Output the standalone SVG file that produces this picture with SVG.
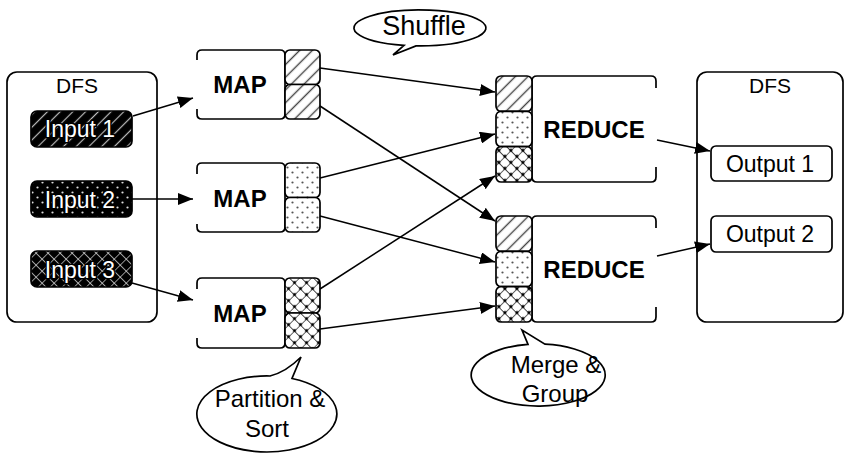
<svg xmlns="http://www.w3.org/2000/svg" width="846" height="459" viewBox="0 0 846 459">
  <defs>
    <style>
      .box { fill: #fff; stroke: #000; stroke-width: 1.7; }
      .open { fill: none; stroke: #000; stroke-width: 1.7; }
      .cell { stroke: #000; stroke-width: 1.7; }
      .lbl { font-family: "Liberation Sans", Arial, sans-serif; font-size: 23px; fill: #000; text-anchor: middle; }
      .bold { font-family: "Liberation Sans", Arial, sans-serif; font-size: 24px; font-weight: bold; fill: #000; text-anchor: middle; }
      .inp { font-family: "Liberation Sans", Arial, sans-serif; font-size: 23px; fill: #fff; stroke: #000; stroke-width: 3; paint-order: stroke; text-anchor: middle; }
      .call { font-family: "Liberation Sans", Arial, sans-serif; font-size: 24px; fill: #000; text-anchor: middle; }
      .edge { fill: none; stroke: #000; stroke-width: 1.5; marker-end: url(#arrow); }
    </style>
    <marker id="arrow" markerUnits="userSpaceOnUse" markerWidth="16" markerHeight="12" refX="15" refY="6" orient="auto">
      <path d="M0,0 L15,6 L0,12 Z" fill="#000"/>
    </marker>
    <!-- light fills for partition cells -->
    <pattern id="hatch" width="9" height="9" patternUnits="userSpaceOnUse" patternTransform="rotate(45)">
      <rect width="9" height="9" fill="#fff"/>
      <line x1="4.5" y1="0" x2="4.5" y2="9" stroke="#444" stroke-width="1.4"/>
    </pattern>
    <pattern id="dots" width="10" height="10" patternUnits="userSpaceOnUse">
      <rect width="10" height="10" fill="#fff"/>
      <circle cx="2.5" cy="2.5" r="1.1" fill="#555"/>
      <circle cx="7.5" cy="7.5" r="1.1" fill="#555"/>
    </pattern>
    <pattern id="cross" width="8.5" height="8.5" patternUnits="userSpaceOnUse" patternTransform="rotate(45)">
      <rect width="8.5" height="8.5" fill="#fff"/>
      <path d="M0,0 H8.5 M0,0 V8.5" stroke="#000" stroke-width="1.2"/>
      <circle cx="0" cy="0" r="1.6" fill="#000"/>
      <circle cx="8.5" cy="0" r="1.6" fill="#000"/>
      <circle cx="0" cy="8.5" r="1.6" fill="#000"/>
      <circle cx="8.5" cy="8.5" r="1.6" fill="#000"/>
    </pattern>
    <!-- dark fills for input files -->
    <pattern id="hatchD" width="9" height="9" patternUnits="userSpaceOnUse" patternTransform="rotate(45)">
      <rect width="9" height="9" fill="#000"/>
      <line x1="4.5" y1="0" x2="4.5" y2="9" stroke="#bbb" stroke-width="1.2"/>
    </pattern>
    <pattern id="dotsD" width="10" height="10" patternUnits="userSpaceOnUse">
      <rect width="10" height="10" fill="#000"/>
      <circle cx="2.5" cy="2.5" r="1.1" fill="#ddd"/>
      <circle cx="7.5" cy="7.5" r="1.1" fill="#ddd"/>
    </pattern>
    <pattern id="crossD" width="8.5" height="8.5" patternUnits="userSpaceOnUse" patternTransform="rotate(45)">
      <rect width="8.5" height="8.5" fill="#000"/>
      <path d="M0,0 H8.5 M0,0 V8.5" stroke="#ddd" stroke-width="1.3"/>
    </pattern>
  </defs>

  <!-- input file system -->
  <g id="dfs-in">
    <rect class="box" x="7" y="72" width="150" height="250" rx="10"/>
    <text class="lbl" x="77" y="93" style="font-size:21px">DFS</text>
  </g>
  <g id="input1">
    <rect class="cell" x="31" y="111" width="101" height="36" rx="6" fill="url(#hatchD)"/>
    <text class="inp" x="80" y="137">Input 1</text>
  </g>
  <g id="input2">
    <rect class="cell" x="31" y="181" width="101" height="36" rx="6" fill="url(#dotsD)"/>
    <text class="inp" x="80" y="208">Input 2</text>
  </g>
  <g id="input3">
    <rect class="cell" x="31" y="251" width="101" height="36" rx="6" fill="url(#crossD)"/>
    <text class="inp" x="80" y="278">Input 3</text>
  </g>

  <!-- map tasks -->
  <g id="map1">
    <path class="open" d="M197,60 V55 Q197,50 202,50 H280 Q285,50 285,55 V114 Q285,119 280,119 H202 Q197,119 197,114 V109"/>
    <rect class="cell" x="285" y="50" width="35" height="34.5" rx="5" fill="url(#hatch)"/>
    <rect class="cell" x="285" y="84.5" width="35" height="34.5" rx="5" fill="url(#hatch)"/>
    <text class="bold" x="240" y="93">MAP</text>
  </g>
  <g id="map2">
    <path class="open" d="M197,174 V168 Q197,163 202,163 H280 Q285,163 285,168 V227 Q285,232 280,232 H202 Q197,232 197,227 V224"/>
    <rect class="cell" x="285" y="163" width="35" height="34.5" rx="5" fill="url(#dots)"/>
    <rect class="cell" x="285" y="197.5" width="35" height="34.5" rx="5" fill="url(#dots)"/>
    <text class="bold" x="240" y="207">MAP</text>
  </g>
  <g id="map3">
    <path class="open" d="M197,289 V283 Q197,278 202,278 H280 Q285,278 285,283 V343 Q285,348 280,348 H202 Q197,348 197,343 V338"/>
    <rect class="cell" x="285" y="278" width="35" height="35" rx="5" fill="url(#cross)"/>
    <rect class="cell" x="285" y="313" width="35" height="35" rx="5" fill="url(#cross)"/>
    <text class="bold" x="240" y="322">MAP</text>
  </g>

  <!-- reduce tasks -->
  <g id="reduce1">
    <path class="open" d="M651,182 H537 Q532,182 532,177 V81 Q532,76 537,76 H651 Q656,76 656,81 V88 M656,167 V177 Q656,182 651,182"/>
    <rect class="cell" x="496" y="76" width="36" height="35.3" rx="5" fill="url(#hatch)"/>
    <rect class="cell" x="496" y="111.3" width="36" height="35.3" rx="5" fill="url(#dots)"/>
    <rect class="cell" x="496" y="146.6" width="36" height="35.4" rx="5" fill="url(#cross)"/>
    <text class="bold" x="594" y="138">REDUCE</text>
  </g>
  <g id="reduce2">
    <path class="open" d="M651,322 H537 Q532,322 532,317 V221 Q532,216 537,216 H651 Q656,216 656,221 V228 M656,307 V317 Q656,322 651,322"/>
    <rect class="cell" x="496" y="216" width="36" height="35.3" rx="5" fill="url(#hatch)"/>
    <rect class="cell" x="496" y="251.3" width="36" height="35.3" rx="5" fill="url(#dots)"/>
    <rect class="cell" x="496" y="286.6" width="36" height="35.4" rx="5" fill="url(#cross)"/>
    <text class="bold" x="594" y="278">REDUCE</text>
  </g>

  <!-- output file system -->
  <g id="dfs-out">
    <rect class="box" x="697" y="72" width="146" height="250" rx="10"/>
    <text class="lbl" x="770" y="93" style="font-size:21px">DFS</text>
  </g>
  <g id="output1">
    <rect class="box" x="711" y="146" width="121" height="35" rx="5"/>
    <text class="lbl" x="770" y="172">Output 1</text>
  </g>
  <g id="output2">
    <rect class="box" x="711" y="216" width="121" height="36" rx="5"/>
    <text class="lbl" x="770" y="242">Output 2</text>
  </g>

  <!-- callouts -->
  <g id="shuffle">
    <path class="box" d="M404,45.4 L393,55 L416,45.9 A66,18 0 1 0 404,45.4 Z"/>
    <text class="call" x="424" y="35" style="font-size:27px">Shuffle</text>
  </g>
  <g id="partition-sort">
    <path class="box" d="M270,376 Q286,372 301,357 L292,378.5 A70,38 0 1 1 270,376 Z"/>
    <text class="call" x="270" y="407">Partition &amp;</text>
    <text class="call" x="267" y="437">Sort</text>
  </g>
  <g id="merge-group">
    <path class="box" d="M528,344.4 L522,330 L545,344.2 A67,31 0 1 1 528,344.4 Z"/>
    <text class="call" x="556" y="373">Merge &amp;</text>
    <text class="call" x="555" y="402">Group</text>
  </g>

  <!-- data flow -->
  <g id="connectors">
    <line class="edge" x1="133" y1="116" x2="193" y2="98"/>
    <line class="edge" x1="132" y1="199" x2="193" y2="199"/>
    <line class="edge" x1="132" y1="283" x2="193" y2="300"/>
    <line class="edge" x1="320" y1="68" x2="495" y2="92"/>
    <line class="edge" x1="320" y1="106" x2="495" y2="221"/>
    <line class="edge" x1="320" y1="178" x2="495" y2="134"/>
    <line class="edge" x1="320" y1="216" x2="495" y2="262"/>
    <line class="edge" x1="320" y1="289" x2="495" y2="176"/>
    <line class="edge" x1="320" y1="329" x2="495" y2="306"/>
    <line class="edge" x1="657" y1="140" x2="710" y2="151"/>
    <line class="edge" x1="657" y1="256" x2="710" y2="244"/>
  </g>
</svg>
